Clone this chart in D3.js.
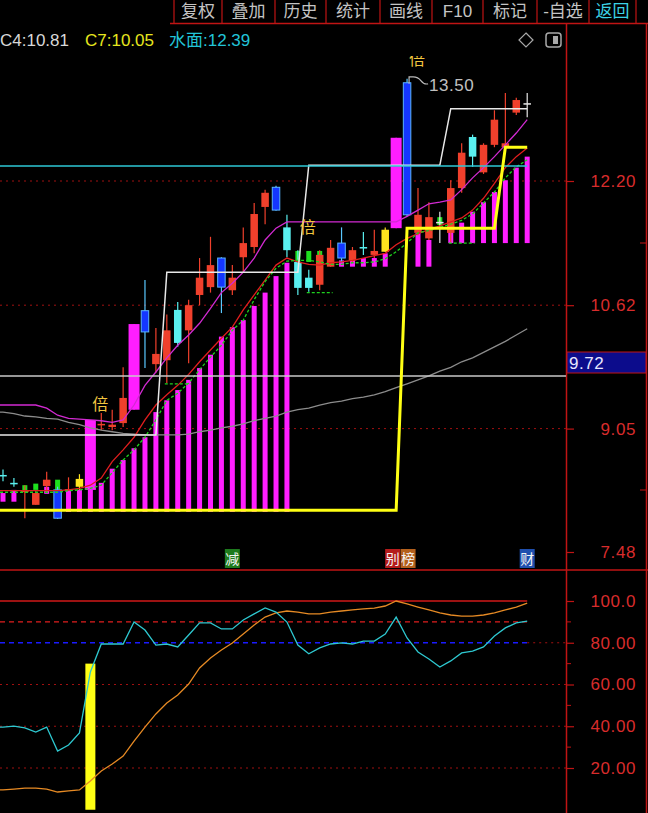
<!DOCTYPE html>
<html><head><meta charset="utf-8">
<script src="https://cdn.jsdelivr.net/npm/d3@7"></script>
<style>
html,body{margin:0;padding:0;background:#000;overflow:hidden}
svg{display:block}
</style></head><body>
<svg id="c" width="648" height="813"></svg>
<script>
// ---------------- DATA ----------------
const menuItems = ["复权","叠加","历史","统计","画线","F10","标记","-自选","返回"];
const headerLabels = ["C4:10.81","C7:10.05","水面:12.39"];
const priceTicks = [12.20, 10.62, 9.05, 7.48];
const subTicks = [100, 80, 60, 40, 20];

const kinds = ['c','c','r','r','r','b','r','y','m','r','r','r','m','b','r','r','c','r','r','r','b','r','r','r','r','b','c','c','c','r','r','b','r','c','r','y','m','b','r','r','w','r','r','c','r','r','r','r','w'];
const openP  = [8.46,8.36,8.26,8.08,8.32,8.27,8.27,8.31,8.27,9.10,9.07,9.12,9.29,10.55,9.87,9.92,10.56,10.30,10.75,10.85,11.22,10.81,11.23,11.36,11.87,12.12,11.61,11.17,10.97,10.88,11.11,11.41,11.19,11.36,11.26,11.30,11.60,13.45,11.54,11.47,11.68,11.54,12.11,12.76,12.31,12.66,12.63,13.07,13.19];
const closeP = [8.46,8.36,8.26,8.23,8.40,7.91,8.28,8.41,9.16,9.11,9.10,9.44,10.38,10.28,10.00,10.30,10.14,10.62,10.97,11.13,10.85,10.97,11.41,11.78,12.05,11.83,11.32,10.84,10.84,11.26,11.35,11.22,11.32,11.35,11.31,11.58,12.75,11.77,11.77,11.74,11.68,12.11,12.56,12.51,12.66,12.98,12.68,13.23,13.19];
const highP  = [8.53,8.42,8.33,8.27,8.50,8.31,8.43,8.47,9.16,9.25,9.29,9.83,10.38,10.94,10.33,10.50,10.66,10.69,11.22,11.49,11.23,11.13,11.61,11.92,12.09,12.14,11.77,11.32,11.07,11.32,11.45,11.61,11.36,11.55,11.58,11.61,12.75,13.50,12.11,11.93,11.81,12.21,12.68,12.79,12.68,13.10,13.32,13.26,13.32];
const lowP   = [8.38,8.31,7.91,8.08,8.23,7.90,8.26,8.27,8.27,9.03,9.03,9.07,9.29,9.82,9.76,9.63,10.09,9.88,10.62,10.78,10.52,10.75,11.04,11.28,11.65,11.82,11.23,10.75,10.79,10.81,11.11,11.17,11.17,11.26,11.22,11.30,11.60,11.75,11.51,11.45,11.41,11.42,12.05,12.38,12.29,12.63,12.59,13.04,13.01];

const maPurple = [9.35,9.35,9.35,9.35,9.31,9.22,9.18,9.17,9.16,9.15,9.13,9.16,9.35,9.60,9.77,9.95,10.11,10.24,10.39,10.58,10.78,10.90,11.04,11.22,11.45,11.60,11.68,11.68,11.68,11.68,11.68,11.68,11.68,11.68,11.68,11.68,11.68,11.75,11.83,11.91,11.93,11.96,12.09,12.24,12.37,12.51,12.66,12.81,12.98];
const maRed = [8.26,8.26,8.26,8.26,8.26,8.26,8.27,8.29,8.33,8.42,8.63,8.78,8.94,9.16,9.35,9.48,9.60,9.74,9.90,10.05,10.20,10.34,10.56,10.75,10.94,11.13,11.22,11.17,11.14,11.13,11.16,11.17,11.19,11.22,11.25,11.28,11.39,11.47,11.53,11.58,11.63,11.68,11.73,11.83,11.98,12.17,12.37,12.51,12.62];
const maGreen = [8.24,8.24,8.24,8.24,8.24,8.24,8.26,8.27,8.29,8.33,8.49,8.65,8.78,8.94,9.16,9.41,9.50,9.63,9.80,9.96,10.11,10.30,10.43,10.69,10.92,11.09,11.18,11.19,11.19,11.17,11.14,11.14,11.16,11.16,11.17,11.21,11.30,11.41,11.54,11.57,11.61,11.65,11.70,11.78,11.92,12.06,12.24,12.38,12.47];
const maGray = [9.26,9.24,9.21,9.20,9.18,9.17,9.13,9.10,9.06,9.03,9.01,8.99,8.98,8.97,8.97,8.97,8.97,8.98,9.01,9.03,9.06,9.08,9.11,9.15,9.18,9.21,9.26,9.29,9.31,9.35,9.38,9.40,9.43,9.45,9.48,9.52,9.57,9.62,9.67,9.72,9.78,9.83,9.90,9.95,10.02,10.09,10.16,10.24,10.32];

// step lines: value holds from the start index onward
const yellowStepStart = [0, 37, 46];
const yellowStepVal   = [8.01, 11.60, 12.63];
const whiteStepStart  = [0, 15, 28, 41];
const whiteStepVal    = [8.97, 11.04, 12.40, 13.12];

// thin magenta bars (top / bottom price, null = none)
const barTop = [8.23,8.27,null,null,8.31,null,8.28,8.27,8.27,8.36,8.54,8.65,8.80,8.94,9.26,9.41,9.54,9.67,9.82,9.99,10.22,10.34,10.43,10.61,10.78,10.99,11.16,null,null,null,null,11.19,11.22,11.22,11.22,11.28,null,null,11.54,11.45,null,11.67,11.67,11.81,11.93,12.06,12.21,12.37,12.51];
const barBot = [8.12,8.12,null,null,8.22,null,7.99,7.99,7.99,7.99,7.99,7.99,7.99,7.99,7.99,7.99,7.99,7.99,7.99,7.99,7.99,7.99,7.99,7.99,7.99,7.99,7.99,null,null,null,null,11.11,11.11,11.11,11.11,11.11,null,null,11.11,11.11,null,11.41,11.41,11.41,11.41,11.41,11.41,11.41,11.41];

// green sticks
const gsIdx = [2, 3, 5, 27, 28, 29, 40];
const gsTop = [8.33, 8.35, 8.40, 11.31, 11.31, 11.31, 11.74];
const gsBot = [8.26, 8.27, 8.27, 11.17, 11.17, 11.17, 11.64];

// green dashed support segments
const supStart = [15, 28, 41];
const supEnd   = [17, 30, 43];
const supVal   = [9.62, 10.78, 11.41];

// "倍" markers
const beiIdx = [8, 27, 37];
const beiVal = [9.36, 11.61, 13.74];

// bottom event markers
const evtIdx  = [21, 36, 37, 48];
const evtText = ["减", "别", "榜", "财"];
const evtBg   = ["#1d7a1d", "#b41c1c", "#b4601c", "#1f4fae"];

const waterLevel = 12.39;
const lastPrice  = 9.72;
const highMark   = 13.50;
const highIdx    = 37;

// lower panel
const subCyan = [39.6,40.1,39.2,37.2,39.6,28.1,31.0,36.8,66.0,79.4,79.4,79.4,89.9,86.1,78.9,79.4,78.0,83.7,89.5,89.5,86.6,86.6,90.9,93.8,96.7,94.7,89.9,78.9,74.7,77.5,79.4,79.9,79.4,80.8,80.8,84.2,92.3,82.3,75.6,72.2,68.4,71.3,75.1,76.0,78.0,83.2,87.1,89.5,90.4];
const subOrange = [9.5,9.9,10.4,10.4,9.9,8.5,9.0,9.5,13.8,18.6,21.9,25.7,32.9,39.6,45.9,51.1,55.0,60.2,67.9,72.7,76.5,79.9,84.2,88.5,92.3,94.3,95.2,94.7,93.8,93.8,94.7,95.2,95.7,96.2,96.6,97.6,100.0,98.6,97.1,95.7,94.3,93.3,92.8,92.8,93.3,94.3,95.7,97.1,99.0];
const subBarIdx = [8];
const subBarVal = [70];

// ---------------- DRAW ----------------
const N = openP.length;
const FONT = '"Liberation Sans","Noto Sans CJK SC",Arial,sans-serif';
const RED = '#c01414';
const x = d3.scaleLinear().domain([0, N - 1]).range([3, 527.2]);
const y = d3.scaleLinear().domain([7.48, 12.20]).range([552, 181]);
const ys = d3.scaleLinear().domain([0, 100]).range([809.75, 601]);
const svg = d3.select('#c').attr('font-family', FONT);
svg.append('rect').attr('width', 648).attr('height', 813).attr('fill', '#000');
const defs = svg.append('defs');
defs.append('clipPath').attr('id', 'mc').append('rect').attr('x', 0).attr('y', 56).attr('width', 566).attr('height', 514);
defs.append('clipPath').attr('id', 'sc').append('rect').attr('x', 0).attr('y', 571).attr('width', 566).attr('height', 242);

// helper: lines continue to the left edge (series extends before first visible bar)
const ext = a => [a[0], ...a];
const lx = (d, i) => i === 0 ? 0 : x(i - 1);

// ---- top menu bar
const seps = [174, 222, 275, 326, 380, 432, 483, 537, 589, 636];
const topBar = svg.append('g');
topBar.append('line').attr('x1', 170).attr('x2', 648).attr('y1', 23.5).attr('y2', 23.5).attr('stroke', RED).attr('stroke-width', 1.5);
seps.forEach(sx => topBar.append('line').attr('x1', sx).attr('x2', sx).attr('y1', 0).attr('y2', 23).attr('stroke', RED).attr('stroke-width', 1.2));
topBar.selectAll('text.menu').data(menuItems).enter().append('text')
  .attr('x', (d, i) => (seps[i] + seps[i + 1]) / 2).attr('y', 11)
  .attr('text-anchor', 'middle').attr('dominant-baseline', 'central')
  .attr('font-size', 17).attr('fill', (d, i) => i === menuItems.length - 1 ? '#3cd2e6' : '#c4c4c4')
  .text(d => d);

// ---- header labels
const hdrX = [0, 85, 169];
const hdrCol = ['#d8d8d8', '#e6e61e', '#22c4d8'];
svg.selectAll('text.hdr').data(headerLabels).enter().append('text')
  .attr('x', (d, i) => hdrX[i]).attr('y', 40).attr('dominant-baseline', 'central')
  .attr('font-size', 17).attr('fill', (d, i) => hdrCol[i]).text(d => d);
svg.append('path').attr('d', 'M526,33 L533,40 L526,47 L519,40 Z').attr('fill', 'none').attr('stroke', '#a8a8a8').attr('stroke-width', 1.2);
svg.append('rect').attr('x', 546).attr('y', 33).attr('width', 15).attr('height', 14).attr('rx', 3).attr('fill', 'none').attr('stroke', '#a8a8a8').attr('stroke-width', 1.5);
svg.append('rect').attr('x', 553).attr('y', 36).attr('width', 5).attr('height', 8).attr('fill', '#a8a8a8');

// ---- frame lines
svg.append('line').attr('x1', 566.5).attr('x2', 566.5).attr('y1', 23).attr('y2', 813).attr('stroke', RED).attr('stroke-width', 1.5);
svg.append('line').attr('x1', 646.5).attr('x2', 646.5).attr('y1', 23).attr('y2', 813).attr('stroke', RED).attr('stroke-width', 1.5);
svg.append('line').attr('x1', 0).attr('x2', 648).attr('y1', 570).attr('y2', 570).attr('stroke', RED).attr('stroke-width', 1.5);

// ---- main grid
const main = svg.append('g').attr('clip-path', 'url(#mc)');
priceTicks.slice(0, 3).forEach(p => main.append('line').attr('x1', 0).attr('x2', 566).attr('y1', y(p)).attr('y2', y(p))
  .attr('stroke', '#a01010').attr('stroke-dasharray', '2,4'));

// axis
const ax = svg.append('g').attr('transform', 'translate(566,0)')
  .call(d3.axisRight(y).tickValues(priceTicks).tickSize(8).tickFormat(d => d.toFixed(2)));
ax.select('.domain').remove();
ax.attr('font-family', FONT).attr('font-size', 17).attr('color', '#d82c2c');
ax.selectAll('line').attr('stroke', RED).attr('stroke-width', 1.2);
ax.selectAll('text').attr('x', 70).attr('text-anchor', 'end').attr('letter-spacing', 0.6);
[243, 367, 490].forEach(v => svg.append('line').attr('x1', 640).attr('x2', 646).attr('y1', v).attr('y2', v).attr('stroke', RED));

// thin magenta bars
main.selectAll('rect.bar').data(d3.range(N).filter(i => barTop[i] !== null)).enter().append('rect')
  .attr('x', i => x(i) - 2.5).attr('width', 5)
  .attr('y', i => y(barTop[i])).attr('height', i => y(barBot[i]) - y(barTop[i]))
  .attr('fill', '#ff1eff');

// green sticks
main.selectAll('rect.gs').data(gsIdx).enter().append('rect')
  .attr('x', d => x(d) - 2.5).attr('width', 5)
  .attr('y', (d, k) => y(gsTop[k])).attr('height', (d, k) => y(gsBot[k]) - y(gsTop[k]))
  .attr('fill', '#1ee01e');

// candles
const bodyCol = {r: '#f0402c', c: '#5af0f0', b: '#1436ff', y: '#ffe41e', m: '#ff1eff', w: '#e6e6e6'};
const wickCol = {r: '#f0402c', c: '#5af0f0', b: '#5ac8ff', y: '#ffe41e', m: '#ff1eff', w: '#e6e6e6'};
const cg = main.append('g');
d3.range(N).forEach(i => {
  const k = kinds[i];
  const w = k === 'm' ? 11 : 7.5;
  cg.append('line').attr('x1', x(i)).attr('x2', x(i)).attr('y1', y(highP[i])).attr('y2', y(lowP[i]))
    .attr('stroke', wickCol[k]).attr('stroke-width', 1.2);
  const t = y(Math.max(openP[i], closeP[i]));
  const h = Math.max(1.5, Math.abs(y(openP[i]) - y(closeP[i])));
  cg.append('rect').attr('x', x(i) - w / 2).attr('width', w).attr('y', t).attr('height', h)
    .attr('fill', bodyCol[k]).attr('stroke', k === 'b' ? '#5ab4ff' : 'none').attr('stroke-width', 1);
});

// MA lines
const ln = d3.line().x(lx).y(d => y(d));
main.append('path').datum(ext(maGray)).attr('d', ln).attr('fill', 'none').attr('stroke', '#8c8c8c').attr('stroke-width', 1.3);
main.append('path').datum(ext(maPurple)).attr('d', ln).attr('fill', 'none').attr('stroke', '#d22ad2').attr('stroke-width', 1.3);
main.append('path').datum(ext(maRed)).attr('d', ln).attr('fill', 'none').attr('stroke', '#e01e1e').attr('stroke-width', 1.3);
main.append('path').datum(ext(maGreen)).attr('d', ln).attr('fill', 'none').attr('stroke', '#1ed21e').attr('stroke-width', 1.3).attr('stroke-dasharray', '3,2');

supVal.forEach((v, k) => main.append('line').attr('x1', x(supStart[k]) - 2).attr('x2', x(supEnd[k]) + 2)
  .attr('y1', y(v)).attr('y2', y(v)).attr('stroke', '#1ed21e').attr('stroke-width', 1.3).attr('stroke-dasharray', '3,2'));

const whiteStep = d3.range(N).map(i => whiteStepVal[d3.bisectRight(whiteStepStart, i) - 1]);
main.append('path').datum(ext(whiteStep)).attr('d', ln).attr('fill', 'none').attr('stroke', '#e8e8e8').attr('stroke-width', 1.5);

main.append('line').attr('x1', 0).attr('x2', x(N - 1)).attr('y1', y(waterLevel)).attr('y2', y(waterLevel)).attr('stroke', '#2ec8d6').attr('stroke-width', 1.5);
main.append('line').attr('x1', 0).attr('x2', 566).attr('y1', y(lastPrice)).attr('y2', y(lastPrice)).attr('stroke', '#c8c8c8').attr('stroke-width', 1.5);

const yellowStep = d3.range(N).map(i => yellowStepVal[d3.bisectRight(yellowStepStart, i) - 1]);
main.append('path').datum(ext(yellowStep)).attr('d', ln).attr('fill', 'none').attr('stroke', '#ffff14').attr('stroke-width', 3);

main.selectAll('text.bei').data(beiIdx).enter().append('text')
  .attr('x', d => x(d) + 2).attr('y', (d, k) => y(beiVal[k])).attr('dominant-baseline', 'central')
  .attr('font-size', 16).attr('fill', '#f2c640').text('倍');

const hx = x(highIdx), hy = y(highMark);
main.append('path').attr('d', `M${hx + 2},${hy + 5} V${hy - 2} H${hx + 6} Q${hx + 11},${hy - 2} ${hx + 14},${hy + 2} T${hx + 21},${hy + 5}`)
  .attr('fill', 'none').attr('stroke', '#bcbcbc').attr('stroke-width', 1.2);
main.append('text').attr('x', hx + 22).attr('y', hy + 7).attr('dominant-baseline', 'central')
  .attr('font-size', 17).attr('fill', '#c0c0c0').attr('letter-spacing', 0.5).text(highMark.toFixed(2));

// event markers (boxes side by side)
const evtOff = [0, -3.5, 1, 0];
evtIdx.forEach((d, k) => {
  const cx = x(d) + evtOff[k];
  main.append('rect').attr('x', cx - 7.5).attr('y', 549).attr('width', 15).attr('height', 19).attr('fill', evtBg[k]);
  main.append('text').attr('x', cx).attr('y', 558.5).attr('text-anchor', 'middle').attr('dominant-baseline', 'central')
    .attr('font-size', 14).attr('fill', '#f4f4f4').text(evtText[k]);
});

svg.append('rect').attr('x', 567).attr('y', 352).attr('width', 79).attr('height', 21).attr('fill', '#0c0c8c').attr('stroke', RED);
svg.append('text').attr('x', 569).attr('y', 363).attr('dominant-baseline', 'central').attr('font-size', 17)
  .attr('fill', '#e6e6ff').attr('letter-spacing', 0.5).text(lastPrice.toFixed(2));

// ---- lower panel
const sub = svg.append('g').attr('clip-path', 'url(#sc)');
[60, 40, 20].forEach(v => sub.append('line').attr('x1', 0).attr('x2', 566).attr('y1', ys(v)).attr('y2', ys(v)).attr('stroke', '#a01010').attr('stroke-dasharray', '2,4'));
sub.append('line').attr('x1', x(N - 1)).attr('x2', 566).attr('y1', ys(80)).attr('y2', ys(80)).attr('stroke', '#a01010').attr('stroke-dasharray', '2,4');
sub.append('line').attr('x1', 0).attr('x2', x(N - 1)).attr('y1', ys(80)).attr('y2', ys(80)).attr('stroke', '#1a1aff').attr('stroke-width', 1.5).attr('stroke-dasharray', '5,4');
sub.append('line').attr('x1', 0).attr('x2', x(N - 1)).attr('y1', ys(90)).attr('y2', ys(90)).attr('stroke', '#e01e1e').attr('stroke-width', 1.3).attr('stroke-dasharray', '5,4');
sub.append('line').attr('x1', 0).attr('x2', x(N - 1)).attr('y1', ys(100)).attr('y2', ys(100)).attr('stroke', '#d01818').attr('stroke-width', 1.6);
sub.selectAll('rect.sb').data(subBarIdx).enter().append('rect')
  .attr('x', d => x(d) - 5).attr('width', 10).attr('y', (d, k) => ys(subBarVal[k])).attr('height', (d, k) => ys(0) - ys(subBarVal[k]))
  .attr('fill', '#ffff14');
const lns = d3.line().x(lx).y(d => ys(d));
sub.append('path').datum(ext(subOrange)).attr('d', lns).attr('fill', 'none').attr('stroke', '#e68a24').attr('stroke-width', 1.3);
sub.append('path').datum(ext(subCyan)).attr('d', lns).attr('fill', 'none').attr('stroke', '#2ec8d0').attr('stroke-width', 1.3);

const sax = svg.append('g').attr('transform', 'translate(566,0)')
  .call(d3.axisRight(ys).tickValues(subTicks).tickSize(8).tickFormat(d => d >= 100 ? d.toFixed(1) : d.toFixed(2)));
sax.select('.domain').remove();
sax.attr('font-family', FONT).attr('font-size', 17).attr('color', '#d82c2c');
sax.selectAll('line').attr('stroke', RED).attr('stroke-width', 1.2);
sax.selectAll('text').attr('x', 70).attr('text-anchor', 'end').attr('letter-spacing', 0.6);
[90, 70, 50, 30].forEach(v => svg.append('line').attr('x1', 566).attr('x2', 571).attr('y1', ys(v)).attr('y2', ys(v)).attr('stroke', RED));
</script>
</body></html>
